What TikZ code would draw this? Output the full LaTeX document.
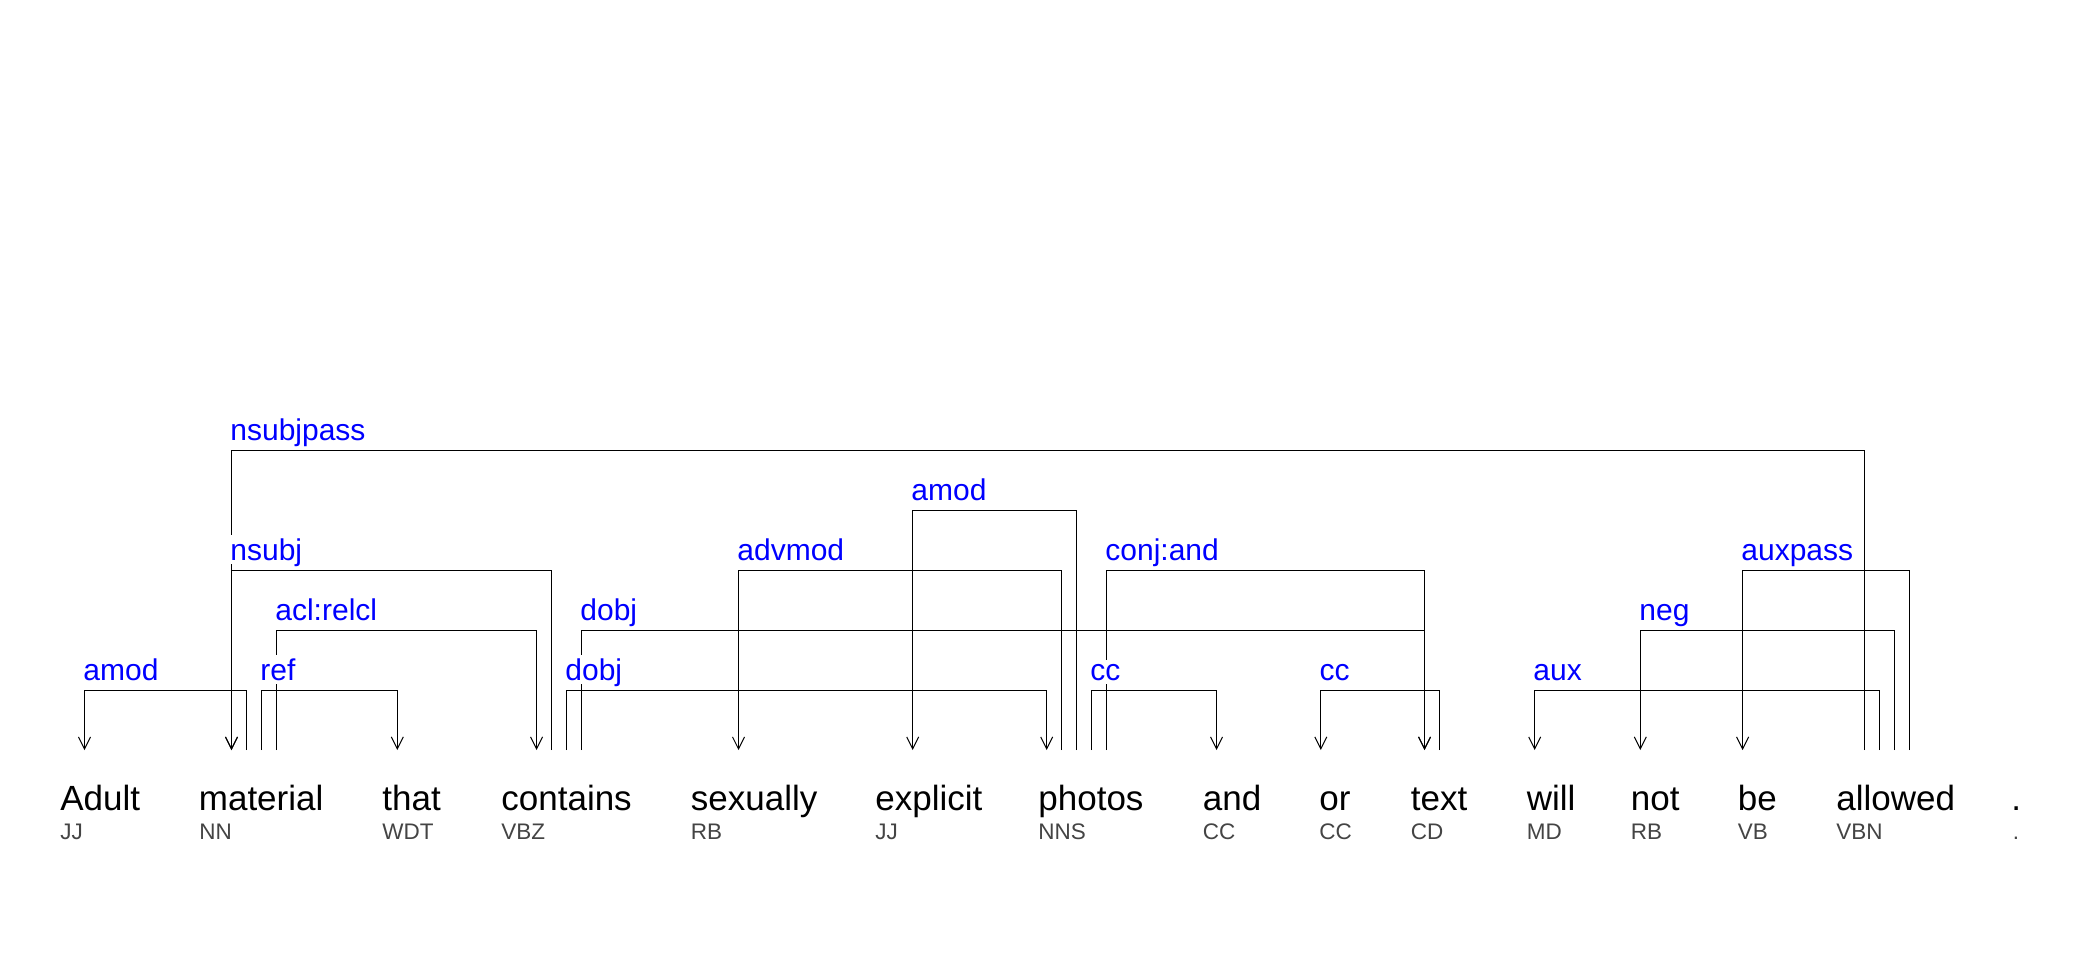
\documentclass[tikz,border=0pt]{standalone}
\usepackage{fontspec}
\setmainfont{Liberation Sans}
\usetikzlibrary{arrows.meta}
\definecolor{relBlue}{RGB}{0,0,255}
\definecolor{tagGray}{RGB}{68,68,68}
\begin{document}
\begin{tikzpicture}[x=0.5pt,y=-0.5pt,
  word/.style={anchor=base west, inner sep=0pt, font=\fontsize{17.5}{20}\selectfont, text=black},
  tag/.style={anchor=base west, inner sep=0pt, font=\fontsize{11.25}{13}\selectfont, text=tagGray},
  rel/.style={anchor=base west, inner xsep=0pt, inner ysep=2pt, text depth=0pt, fill=white, font=\fontsize{15}{18}\selectfont, text=relBlue},
  dep/.style={draw=black, line width=0.5pt, -{Straight Barb[length=6pt,width=6pt]}}]
\fill[white] (0,0) rectangle (2076,960);
\useasboundingbox (0,0) rectangle (2076,960);

% words
\node[word] (wAdult) at (60,810) {Adult};
\node[word] (wmaterial) at (198.5,810) {material};
\node[word] (wthat) at (382,810) {that};
\node[word] (wcontains) at (501,810) {contains};
\node[word] (wsexually) at (690.5,810) {sexually};
\node[word] (wexplicit) at (875,810) {explicit};
\node[word] (wphotos) at (1038,810) {photos};
\node[word] (wand) at (1202.5,810) {and};
\node[word] (wor) at (1319,810) {or};
\node[word] (wtext) at (1410.5,810) {text};
\node[word] (wwill) at (1526.5,810) {will};
\node[word] (wnot) at (1630.5,810) {not};
\node[word] (wbe) at (1737.5,810) {be};
\node[word] (wallowed) at (1836,810) {allowed};
\node[word] (wdot) at (2011,810) {.};

% tags
\node[tag] (tAdult) at (60,839.5) {JJ};
\node[tag] (tmaterial) at (199,839.5) {NN};
\node[tag] (tthat) at (382,839.5) {WDT};
\node[tag] (tcontains) at (501,839.5) {VBZ};
\node[tag] (tsexually) at (690.5,839.5) {RB};
\node[tag] (texplicit) at (875,839.5) {JJ};
\node[tag] (tphotos) at (1038,839.5) {NNS};
\node[tag] (tand) at (1202.5,839.5) {CC};
\node[tag] (tor) at (1319,839.5) {CC};
\node[tag] (ttext) at (1410.5,839.5) {CD};
\node[tag] (twill) at (1526.5,839.5) {MD};
\node[tag] (tnot) at (1630.5,839.5) {RB};
\node[tag] (tbe) at (1737.5,839.5) {VB};
\node[tag] (tallowed) at (1836,839.5) {VBN};
\node[tag] (tdot) at (2012.5,839.5) {.};

% stub points (bottom ends of connectors)
\coordinate (a1) at (84.5,750);
\coordinate (m1) at (231.5,750);
\coordinate (m2) at (246.5,750);
\coordinate (m3) at (261.5,750);
\coordinate (m4) at (276.5,750);
\coordinate (t1) at (397.3,750);
\coordinate (c1) at (536.6,750);
\coordinate (c2) at (551.3,750);
\coordinate (c3) at (566.5,750);
\coordinate (c4) at (581.3,750);
\coordinate (s1) at (738.5,750);
\coordinate (e1) at (912.7,750);
\coordinate (p1) at (1046.7,750);
\coordinate (p2) at (1061.5,750);
\coordinate (p3) at (1076.5,750);
\coordinate (p4) at (1091.6,750);
\coordinate (p5) at (1106.5,750);
\coordinate (n1) at (1216.5,750);
\coordinate (o1) at (1320.8,750);
\coordinate (x1) at (1424.5,750);
\coordinate (x2) at (1439,750);
\coordinate (w1) at (1534.7,750);
\coordinate (nt1) at (1640.3,750);
\coordinate (b1) at (1742.6,750);
\coordinate (al1) at (1864.4,750);
\coordinate (al2) at (1879,750);
\coordinate (al3) at (1894.4,750);
\coordinate (al4) at (1909,750);

% levels
\coordinate (L1) at (0,690.3);
\coordinate (L2) at (0,630.3);
\coordinate (L3) at (0,570.3);
\coordinate (L4) at (0,510.3);
\coordinate (L5) at (0,450.3);

% connectors
\draw[dep] (m2) -- (m2 |- L1) -| (a1);
\draw[dep] (m3) -- (m3 |- L1) -| (t1);
\draw[dep] (m4) -- (m4 |- L2) -| (c1);
\draw[dep] (c2) -- (c2 |- L3) -| (m1);
\draw[dep] (al1) -- (al1 |- L5) -| (m1);
\draw[dep] (c3) -- (c3 |- L1) -| (p1);
\draw[dep] (c4) -- (c4 |- L2) -| (x1);
\draw[dep] (p2) -- (p2 |- L3) -| (s1);
\draw[dep] (p3) -- (p3 |- L4) -| (e1);
\draw[dep] (p4) -- (p4 |- L1) -| (n1);
\draw[dep] (p5) -- (p5 |- L3) -| (x1);
\draw[dep] (x2) -- (x2 |- L1) -| (o1);
\draw[dep] (al2) -- (al2 |- L1) -| (w1);
\draw[dep] (al3) -- (al3 |- L2) -| (nt1);
\draw[dep] (al4) -- (al4 |- L3) -| (b1);

% relation labels
\node[rel] (r1) at (83,680.3) {amod};
\node[rel] (r2) at (260,680.3) {ref};
\node[rel] (r3) at (275,620.3) {acl:relcl};
\node[rel] (r4) at (230,560.3) {nsubj};
\node[rel] (r5) at (230,440.3) {nsubjpass};
\node[rel] (r6) at (565,680.3) {dobj};
\node[rel] (r7) at (580,620.3) {dobj};
\node[rel] (r8) at (737,560.3) {advmod};
\node[rel] (r9) at (911,500.3) {amod};
\node[rel] (r10) at (1090,680.3) {cc};
\node[rel] (r11) at (1105,560.3) {conj:and};
\node[rel] (r12) at (1319.3,680.3) {cc};
\node[rel] (r13) at (1533,680.3) {aux};
\node[rel] (r14) at (1639,620.3) {neg};
\node[rel] (r15) at (1741,560.3) {auxpass};
\end{tikzpicture}
\end{document}
